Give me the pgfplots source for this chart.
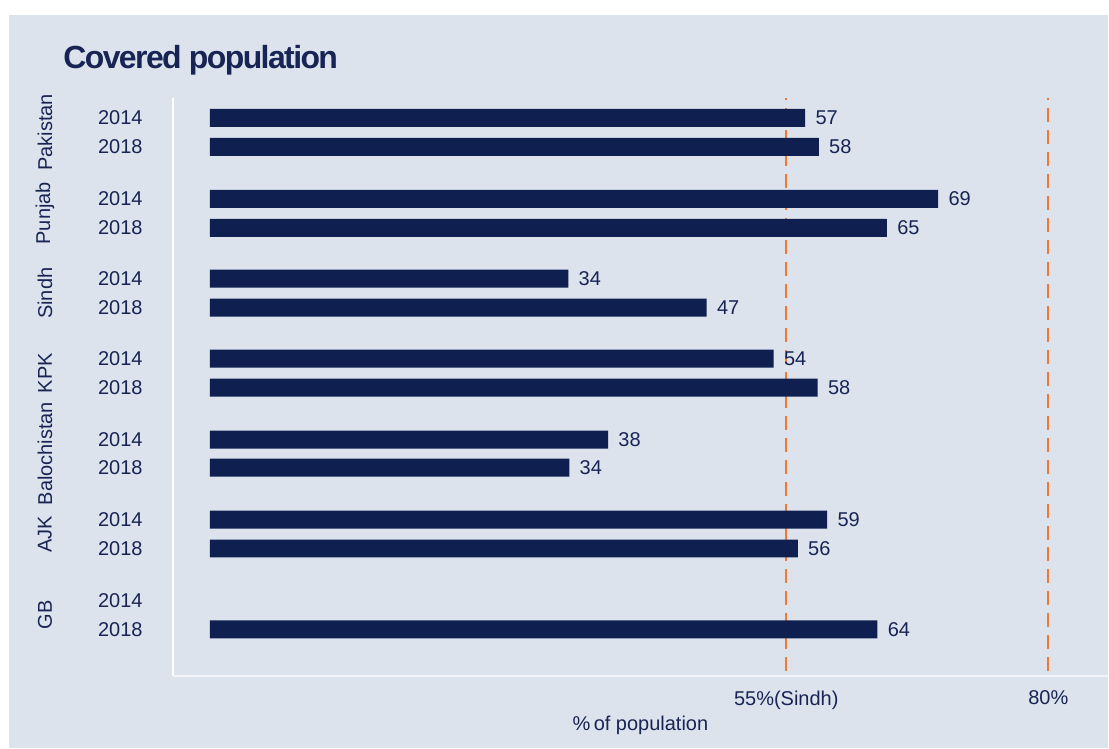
\documentclass[border=0pt]{standalone}
\usepackage{fontspec}
\setmainfont{Liberation Sans}
\newfontfamily\titlefont{Liberation Sans}[LetterSpace=-5]
\usepackage{pgfplots}
\usepackage{pgfplotstable}
\pgfplotsset{compat=1.18}
\definecolor{bg}{RGB}{220,227,237}
\definecolor{navy}{RGB}{14,31,80}
\definecolor{txt}{RGB}{24,36,84}
\definecolor{org}{RGB}{244,121,48}

% value, y position (row), label
\pgfplotstableread{
val   pos  lab
56.8  118  57
58.1  147  58
69.5  199  69
64.6  228  65
34.2  279  34
47.4  308  47
53.8  359  54
58.0  388  58
38.0  440  38
34.3  468  34
58.9  520  59
56.1  549  56
63.7  630  64
}\datatable

\begin{document}
\begin{tikzpicture}
\begin{axis}[
  set layers,
  scale only axis, width=468pt, height=289.5pt,
  xmin=-3.527, xmax=85.70, ymin=98, ymax=677, y dir=reverse,
  axis line style={draw=none},
  major tick length=0pt,
  clip=false,
  xtick={55,80}, xticklabels={55\%(Sindh),80\%},
  xticklabel style={text=txt, inner sep=0pt, anchor=north, yshift=-7pt},
  ytick={118,147,199,228,279,308,359,388,440,468,520,549,601,630},
  yticklabels={2014,2018,2014,2018,2014,2018,2014,2018,2014,2018,2014,2018,2014,2018},
  yticklabel style={text=txt, inner sep=0pt, anchor=east, xshift=-15pt},
  xlabel={\%\,of population},
  xlabel style={at={(axis description cs:0.5,0)}, anchor=center, yshift=-24.5pt, text=txt},
]
\begin{pgfonlayer}{axis background}
\fill[white] (axis cs:-20.02,0) rectangle (axis cs:85.70,749);
\fill[bg] (axis cs:-19.16,15) rectangle (axis cs:85.70,749);
\draw[white, line width=1pt] (axis cs:-3.527,98) -- (axis cs:-3.527,677);
\draw[white!60!bg, line width=1pt] (axis cs:-3.527,677) -- (axis cs:85.70,677);
\end{pgfonlayer}
\node[anchor=base west, inner sep=0pt, text=txt, font=\titlefont\bfseries\fontsize{16}{19}\selectfont] at (axis cs:-14.01,69) {Covered population};
\node[rotate=90, text=txt, inner sep=0pt] at (axis cs:-15.73,132.5) {Pakistan};
\node[rotate=90, text=txt, inner sep=0pt] at (axis cs:-15.73,213.5) {Punjab};
\node[rotate=90, text=txt, inner sep=0pt] at (axis cs:-15.73,293.5) {Sindh};
\node[rotate=90, text=txt, inner sep=0pt] at (axis cs:-15.73,373.5) {KPK};
\node[rotate=90, text=txt, inner sep=0pt] at (axis cs:-15.73,454) {Balochistan};
\node[rotate=90, text=txt, inner sep=0pt] at (axis cs:-15.73,534.5) {AJK};
\node[rotate=90, text=txt, inner sep=0pt] at (axis cs:-15.73,615.5) {GB};
\addplot[org, line width=1pt, dash pattern=on 7pt off 4pt, dash phase=6pt, forget plot] coordinates {(55,98) (55,677)};
\addplot[org, line width=1pt, dash pattern=on 7pt off 4pt, dash phase=6pt, forget plot] coordinates {(80,98) (80,677)};
\addplot[xbar, bar width=9pt, bar shift=0pt, fill=navy, draw=none,
  point meta=explicit symbolic,
  nodes near coords, nodes near coords align={horizontal},
  every node near coord/.append style={anchor=west, inner sep=0pt, xshift=5pt, text=txt}]
  table[x=val, y=pos, meta=lab] {\datatable};
\end{axis}
\end{tikzpicture}
\end{document}
